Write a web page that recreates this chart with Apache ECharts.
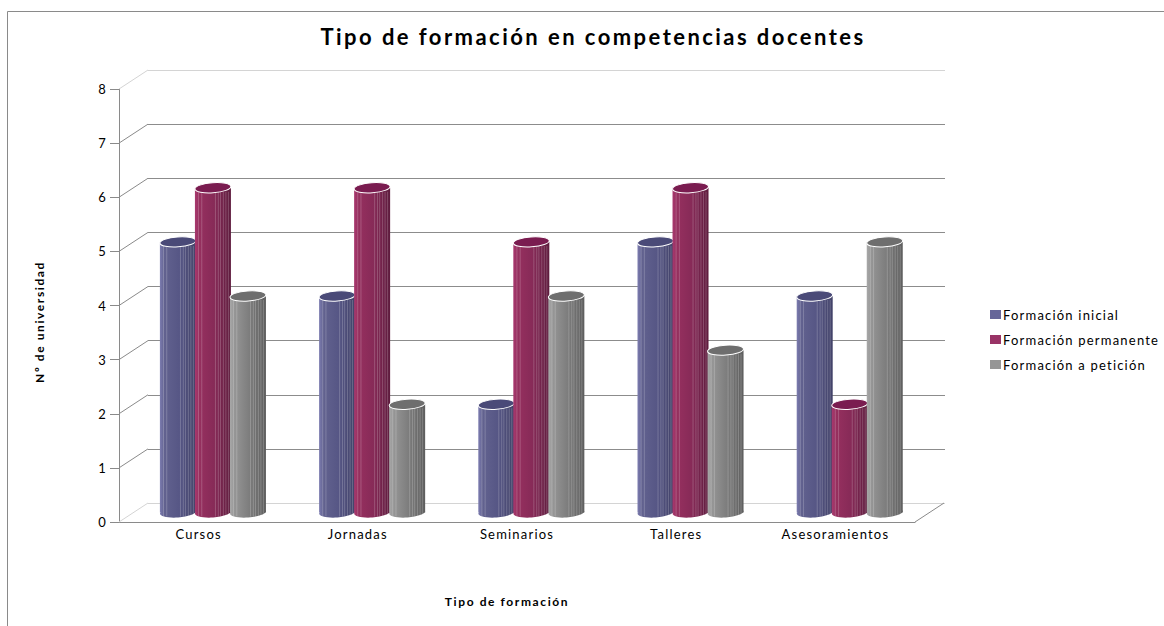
<!DOCTYPE html>
<html>
<head>
<meta charset="utf-8">
<title>Tipo de formación en competencias docentes</title>
<style>
  html, body { margin: 0; padding: 0; background: #fff; }
  #chart { width: 1164px; height: 626px; }
  /* el original lleva el texto muy espaciado */
  #chart text[style*="22px"] { letter-spacing: 2.45px; }
  #chart text[style*="13px"] { letter-spacing: 1.2px; }
  #chart text[style*="12px"] { letter-spacing: 1.6px; }
</style>
</head>
<body>
<div id="chart"></div>
<script src="https://cdn.jsdelivr.net/npm/echarts@6/dist/echarts.min.js"></script>
<script>
const categories = ['Cursos', 'Jornadas', 'Seminarios', 'Talleres', 'Asesoramientos']
const inicial = [5, 4, 2, 5, 4]
const permanente = [6, 6, 5, 6, 2]
const peticion = [4, 2, 4, 3, 5]
const yTicks = [0, 1, 2, 3, 4, 5, 6, 7, 8]

const FONT = 'Lato'
const DEPTH_X = 29
const DEPTH_Y = -19

// lineas finas de las facetas del cilindro
const facets = [0.1, 0.19, 0.57, 0.65, 0.71, 0.79, 0.86, 0.93]

const cylinder = (offset, stops, topColor) => (params, api) => {
  const band = api.size([1, 0])[0]
  const top = api.coord([api.value(0), api.value(1)])
  const base = api.coord([api.value(0), 0])
  const cx = top[0] + offset * band
  const r = 18
  const shift = -9.5
  const fill = new echarts.graphic.LinearGradient(0, 0, 1, 0, [
    { offset: 0, color: stops[0] },
    { offset: 0.12, color: stops[1] },
    { offset: 0.55, color: stops[2] },
    { offset: 1, color: stops[3] }
  ])
  const yTop = top[1] + shift
  const yBase = base[1] + shift
  const children = [
    { type: 'ellipse', x: cx, y: yBase, rotation: 0.07, shape: { cx: 0, cy: 0, rx: r, ry: 5 }, style: { fill } },
    { type: 'rect', shape: { x: cx - r, y: yTop, width: 2 * r, height: yBase - yTop }, style: { fill } }
  ]
  facets.forEach(f => {
    const x = cx - r + f * 2 * r
    children.push({
      type: 'line',
      shape: { x1: x, y1: yTop + 4, x2: x, y2: yBase + 4 },
      style: { stroke: 'rgba(255,255,255,0.2)', lineWidth: 1 }
    })
  })
  children.push({
    type: 'ellipse', x: cx, y: yTop, rotation: 0.07,
    shape: { cx: 0, cy: 0, rx: r, ry: 5 },
    style: { fill: topColor, stroke: '#fff', lineWidth: 1 }
  })
  return { type: 'group', children }
}

// diagonales de las paredes laterales
const wallLines = (params, api) => {
  const v = api.value(0)
  const p = api.coord([0, v])
  const x = params.coordSys.x
  const faint = v === 0 || v === 8
  return {
    type: 'line',
    shape: { x1: x, y1: p[1], x2: x + DEPTH_X, y2: p[1] + DEPTH_Y },
    style: { stroke: faint ? '#d4d4d4' : '#8a8a8a', lineWidth: 1 }
  }
}

const floorEdge = (params, api) => {
  const p = api.coord([0, 0])
  const x = params.coordSys.x + params.coordSys.width
  return {
    type: 'line',
    shape: { x1: x, y1: p[1], x2: x + DEPTH_X, y2: p[1] + DEPTH_Y },
    style: { stroke: '#8a8a8a', lineWidth: 1 }
  }
}

const barSeries = (name, values, offset, stops, topColor, legendColor) => ({
  name,
  type: 'custom',
  xAxisIndex: 0,
  yAxisIndex: 0,
  z: 5,
  itemStyle: { color: legendColor },
  encode: { x: 0, y: 1 },
  data: values.map((v, i) => [i, v]),
  renderItem: cylinder(offset, stops, topColor)
})

const chart = echarts.init(document.getElementById('chart'), null, { renderer: 'svg' })

chart.setOption({
  animation: false,
  backgroundColor: '#fff',
  title: {
    text: 'Tipo de formación en competencias docentes',
    left: 588,
    textAlign: 'center',
    top: 20,
    textStyle: { fontFamily: FONT, fontSize: 22, fontWeight: 'bold', color: '#000' }
  },
  legend: {
    data: ['Formación inicial', 'Formación permanente', 'Formación a petición'],
    orient: 'vertical',
    left: 985,
    top: 303,
    padding: 5,
    itemWidth: 11,
    itemHeight: 9,
    itemGap: 12,
    icon: 'rect',
    textStyle: { fontFamily: FONT, fontSize: 13, color: '#000', padding: [0, 0, 4, -3] }
  },
  grid: [
    { left: 119, right: 249, top: 89, bottom: 104 },
    { left: 148, right: 219, top: 70, bottom: 123 }
  ],
  xAxis: [
    {
      type: 'category',
      gridIndex: 0,
      data: categories,
      axisLine: { lineStyle: { color: '#8a8a8a' } },
      axisTick: { show: false },
      axisLabel: { fontFamily: FONT, fontSize: 13, color: '#000', margin: 5 }
    },
    {
      type: 'category',
      gridIndex: 1,
      data: categories,
      axisLine: { show: false },
      axisTick: { show: false },
      axisLabel: { show: false }
    }
  ],
  yAxis: [
    {
      type: 'value',
      gridIndex: 0,
      min: 0,
      max: 8,
      interval: 1,
      axisLine: { show: true, lineStyle: { color: '#8a8a8a' } },
      axisTick: { show: true, length: 9, lineStyle: { color: '#8a8a8a' } },
      axisLabel: { fontFamily: FONT, fontSize: 13, color: '#000', margin: 12 },
      splitLine: { show: false }
    },
    {
      type: 'value',
      gridIndex: 1,
      min: 0,
      max: 8,
      interval: 1,
      axisLine: { show: false },
      axisTick: { show: false },
      axisLabel: { show: false },
      splitLine: {
        show: true,
        lineStyle: {
          color: yTicks.map(v => (v === 0 || v === 8 ? '#d4d4d4' : '#8c8c8c')),
          width: 1
        }
      }
    }
  ],
  series: [
    {
      type: 'custom',
      z: 1,
      silent: true,
      encode: { y: 0 },
      data: yTicks.map(v => [v]),
      renderItem: wallLines
    },
    {
      type: 'custom',
      z: 1,
      silent: true,
      encode: { y: 0 },
      data: [[0]],
      renderItem: floorEdge
    },
    barSeries('Formación inicial', inicial, -0.13, ['#7c7cb0', '#62628f', '#565685', '#424268'], '#4a4a78', '#666699'),
    barSeries('Formación permanente', permanente, 0.09, ['#a8386e', '#96305f', '#862a57', '#5e1c3e'], '#7a1c50', '#993366'),
    barSeries('Formación a petición', peticion, 0.31, ['#a8a8a8', '#969696', '#7c7c7c', '#5e5e5e'], '#6e6e6e', '#969696')
  ],
  graphic: [
    {
      type: 'polyline',
      silent: true,
      shape: { points: [[7.5, 626], [7.5, 11.5], [1164, 11.5]] },
      style: { fill: 'none', stroke: '#8a8a8a', lineWidth: 1 }
    },
    {
      type: 'text',
      x: 39,
      y: 322,
      rotation: Math.PI / 2,
      style: {
        text: 'Nº de universidad',
        fontFamily: FONT, fontSize: 12, fontWeight: 'bold', fill: '#000',
        align: 'center', verticalAlign: 'middle'
      }
    },
    {
      type: 'text',
      x: 507,
      y: 601,
      style: {
        text: 'Tipo de formación',
        fontFamily: FONT, fontSize: 12, fontWeight: 'bold', fill: '#000',
        align: 'center', verticalAlign: 'middle'
      }
    }
  ]
})
</script>
</body>
</html>
